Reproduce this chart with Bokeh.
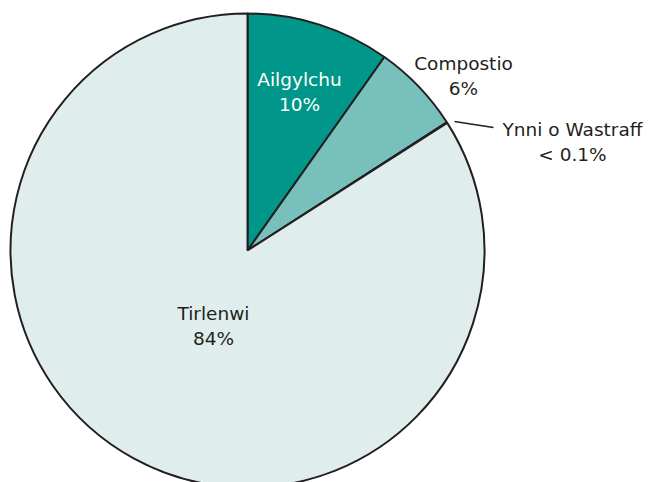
import math
from bokeh.plotting import figure
from bokeh.models import Range1d, ColumnDataSource
from bokeh.core.properties import value
from bokeh.embed import file_html
from bokeh.resources import INLINE

# Data
categories = ["Ailgylchu", "Compostio", "Ynni o Wastraff", "Tirlenwi"]
shares = [9.8, 6.1, 0.05, 84.05]
pct_labels = ["10%", "6%", "< 0.1%", "84%"]
colors = ["#00968a", "#77c0bc", "#dfeeed", "#dfeeed"]

W, H = 648, 482
cx, cy, R = 247, H - 250, 237

total = sum(shares)
starts, ends = [], []
acc = 0.0
for s in shares:
    starts.append(math.pi / 2 - 2 * math.pi * acc / total)
    acc += s
    ends.append(math.pi / 2 - 2 * math.pi * acc / total)

src = ColumnDataSource(dict(cat=categories, start=starts, end=ends, color=colors))

p = figure(width=W, height=H, output_backend="svg", toolbar_location=None,
           x_range=Range1d(0, W), y_range=Range1d(0, H), min_border=0)
p.axis.visible = False
p.grid.visible = False
p.outline_line_color = None
p.background_fill_color = "white"

p.wedge(x=cx, y=cy, radius=R, start_angle="start", end_angle="end",
        direction="clock", fill_color="color", line_color="#231f20",
        line_width=2, source=src)

# leader line for tiny slice
p.segment(x0=[454], y0=[H - 121], x1=[493], y1=[H - 127],
          line_color="#231f20", line_width=1.5)

font = value("DejaVu Sans")
fs = "18.5px"
# label positions (pixel layout)
lab_x = [299, 463, 572, 213]
lab_y = [79, 63, 129, 313]
lab_col = ["white", "#231f20", "#231f20", "#231f20"]
p.text(x=lab_x, y=[H - y for y in lab_y], text=categories,
       text_font=font, text_font_size=fs, text_color=lab_col,
       text_align="center", text_baseline="middle")
p.text(x=lab_x, y=[H - y - 25 for y in lab_y], text=pct_labels,
       text_font=font, text_font_size=fs, text_color=lab_col,
       text_align="center", text_baseline="middle")

open("out.html", "w").write(file_html(p, INLINE))
